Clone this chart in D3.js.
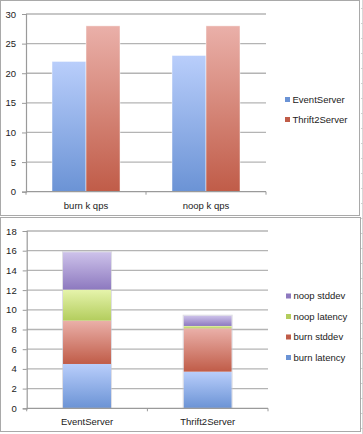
<!DOCTYPE html>
<html><head><meta charset="utf-8">
<script src="https://cdn.jsdelivr.net/npm/d3@7"></script>
<style>
html,body{margin:0;padding:0;background:#fff;}
svg{display:block;}
text{font-family:"Liberation Sans",Arial,sans-serif;fill:#222;}
</style></head>
<body><svg id="c" width="363" height="434"></svg>
<script>
// ---- data ----
const topCategories = ["burn k qps", "noop k qps"];
const topSeries = ["EventServer", "Thrift2Server"];
const eventServerQps = [22, 23];
const thrift2ServerQps = [28, 28];
const topTicks = [0, 5, 10, 15, 20, 25, 30];

const bottomCategories = ["EventServer", "Thrift2Server"];
const bottomSeries = ["burn latency", "burn stddev", "noop latency", "noop stddev"];
const burnLatency = [4.5, 3.72];
const burnStddev = [4.4, 4.4];
const noopLatency = [3.15, 0.24];
const noopStddev = [3.8, 1.04];
const bottomTicks = [0, 2, 4, 6, 8, 10, 12, 14, 16, 18];

const colors = {
  "EventServer": ["#b9cefb", "#6b93d5"],
  "Thrift2Server": ["#eab0a9", "#c05c48"],
  "burn latency": ["#b9cefb", "#6b93d5"],
  "burn stddev": ["#eab0a9", "#c05c48"],
  "noop latency": ["#e6f4ac", "#b3cd5d"],
  "noop stddev": ["#cdc2ea", "#8d79bf"]
};

const svg = d3.select("#c");
const defs = svg.append("defs");
Object.keys(colors).forEach((k, i) => {
  const g = defs.append("linearGradient").attr("id", "g" + i)
    .attr("x1", 0).attr("y1", 0).attr("x2", 0).attr("y2", 1);
  g.append("stop").attr("offset", "0%").attr("stop-color", colors[k][0]);
  g.append("stop").attr("offset", "100%").attr("stop-color", colors[k][1]);
});
const gid = k => "url(#g" + Object.keys(colors).indexOf(k) + ")";

// spreadsheet background hints on right
const bg = svg.append("g");
bg.append("line").attr("x1", 362.5).attr("x2", 362.5).attr("y1", 0).attr("y2", 434).attr("stroke", "#d8d8d8");
d3.range(8, 434, 15).forEach(y => bg.append("line").attr("x1", 361).attr("x2", 363).attr("y1", y + 0.5).attr("y2", y + 0.5).attr("stroke", "#d0d0d0"));

// panels
svg.append("rect").attr("x", 0.5).attr("y", 0.5).attr("width", 359).attr("height", 215)
  .attr("fill", "#fff").attr("stroke", "#a9a9a9");
svg.append("rect").attr("x", 0.5).attr("y", 217.5).attr("width", 360).attr("height", 214)
  .attr("fill", "#fff").attr("stroke", "#a9a9a9");

function axesGrid(y, ticks, x0, x1) {
  const g = svg.append("g");
  ticks.forEach(t => {
    if (t !== 0) g.append("line").attr("x1", x0).attr("x2", x1)
      .attr("y1", y(t)).attr("y2", y(t)).attr("stroke", "#b4b4b4").attr("stroke-width", 1.3);
  });
  const ya = d3.axisLeft(y).tickValues(ticks).tickSize(4).tickPadding(6);
  const ga = svg.append("g").attr("transform", `translate(${x0},0)`).call(ya);
  ga.select(".domain").attr("stroke", "#9a9a9a").attr("stroke-width", 1.2);
  ga.selectAll(".tick line").attr("stroke", "#9a9a9a");
  ga.selectAll("text").style("font-size", "9.5px").attr("fill", "#222");
}

// ---- top chart ----
const yT = d3.scaleLinear().domain([0, 30]).range([191.7, 14]);
const xT = d3.scaleBand().domain(topCategories).range([26, 266]).paddingInner(0.4333).paddingOuter(0.2167);
const xTi = d3.scaleBand().domain(topSeries).range([0, xT.bandwidth()]);
axesGrid(yT, topTicks, 26, 266);
const topVals = { "EventServer": eventServerQps, "Thrift2Server": thrift2ServerQps };
topSeries.forEach(s => {
  svg.append("g").selectAll("rect").data(topCategories).join("rect")
    .attr("x", (c) => xT(c) + xTi(s))
    .attr("y", (c, i) => yT(topVals[s][i]))
    .attr("width", xTi.bandwidth())
    .attr("height", (c, i) => yT(0) - yT(topVals[s][i]))
    .attr("fill", gid(s)).attr("stroke", "rgba(255,255,255,0.6)").attr("stroke-width", 0.8);
});
// x axis top
const xaT = svg.append("g").attr("transform", `translate(0,${yT(0)})`);
xaT.append("line").attr("x1", 26).attr("x2", 266).attr("stroke", "#9a9a9a").attr("stroke-width", 1.2);
[26, 146, 266].forEach(x => xaT.append("line").attr("x1", x).attr("x2", x).attr("y1", 0).attr("y2", 3).attr("stroke", "#9a9a9a"));
xaT.selectAll("text").data(topCategories).join("text")
  .attr("x", c => xT(c) + xT.bandwidth() / 2).attr("y", 17)
  .attr("text-anchor", "middle").style("font-size", "9.5px").text(c => c);
// legend top
const lgT = svg.append("g");
topSeries.forEach((s, i) => {
  const yy = 99.5 + i * 20;
  lgT.append("rect").attr("x", 285).attr("y", yy - 2.5).attr("width", 5).attr("height", 5).attr("fill", colors[s][1]);
  lgT.append("text").attr("x", 292.5).attr("y", yy + 3.3).style("font-size", "9.5px").text(s);
});

// ---- bottom chart ----
const yB = d3.scaleLinear().domain([0, 18]).range([408.3, 231]);
const xB = d3.scaleBand().domain(bottomCategories).range([26.7, 268]).paddingInner(0.602).paddingOuter(0.301);
axesGrid(yB, bottomTicks, 26.7, 268);
const bVals = { "burn latency": burnLatency, "burn stddev": burnStddev, "noop latency": noopLatency, "noop stddev": noopStddev };
const rows = bottomCategories.map((c, i) => { const o = { cat: c }; bottomSeries.forEach(s => o[s] = bVals[s][i]); return o; });
const stacked = d3.stack().keys(bottomSeries)(rows);
stacked.forEach(layer => {
  const s = layer.key;
  svg.append("g").selectAll("rect").data(layer).join("rect")
    .attr("x", d => xB(d.data.cat))
    .attr("y", d => yB(d[1]))
    .attr("width", xB.bandwidth())
    .attr("height", d => yB(d[0]) - yB(d[1]))
    .attr("fill", gid(s));
});
// faint outline around stacks
svg.append("g").selectAll("rect").data(rows).join("rect")
  .attr("x", d => xB(d.cat) - 0.5).attr("width", xB.bandwidth() + 1)
  .attr("y", (d, i) => yB(stacked[stacked.length - 1][i][1]) - 0.5)
  .attr("height", (d, i) => yB(0) - yB(stacked[stacked.length - 1][i][1]) + 0.5)
  .attr("fill", "none").attr("stroke", "rgba(200,200,210,0.6)").attr("stroke-width", 1);
const xaB = svg.append("g").attr("transform", `translate(0,${yB(0)})`);
xaB.append("line").attr("x1", 26.7).attr("x2", 268).attr("stroke", "#9a9a9a").attr("stroke-width", 1.2);
[26.7, 147.4, 268].forEach(x => xaB.append("line").attr("x1", x).attr("x2", x).attr("y1", 0).attr("y2", 3).attr("stroke", "#9a9a9a"));
xaB.selectAll("text").data(bottomCategories).join("text")
  .attr("x", c => xB(c) + xB.bandwidth() / 2).attr("y", 16.5)
  .attr("text-anchor", "middle").style("font-size", "9.5px").text(c => c);
const lgB = svg.append("g");
bottomSeries.slice().reverse().forEach((s, i) => {
  const yy = 296 + i * 20.5;
  lgB.append("rect").attr("x", 286).attr("y", yy - 2.5).attr("width", 5).attr("height", 5).attr("fill", colors[s][1]);
  lgB.append("text").attr("x", 293.5).attr("y", yy + 3.3).style("font-size", "9.5px").text(s);
});
</script></body></html>
